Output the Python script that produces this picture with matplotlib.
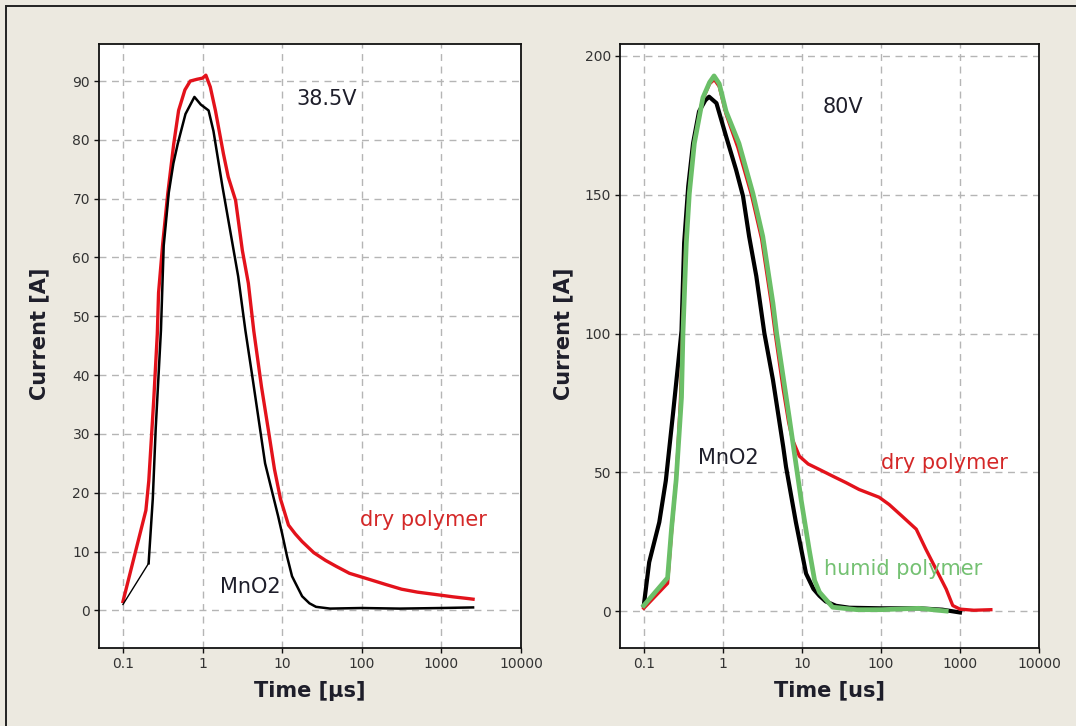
#!/usr/bin/env python3
"""Surge current of MnO2 vs polymer capacitors at 38.5 V and 80 V (log time axis)."""

import matplotlib
matplotlib.use("Agg")
import matplotlib.pyplot as plt
from matplotlib.patches import Rectangle

# ---------------------------------------------------------------------------
# Data
# ---------------------------------------------------------------------------

# 38.5 V panel
t_mno2_38 = [0.1, 0.21, 0.237, 0.258, 0.3, 0.325, 0.376, 0.43, 0.487, 0.61, 0.79, 0.95,
             1.19, 1.37, 1.78, 2.37, 2.8, 3.45, 4.3, 6.1, 8.9, 10, 11.5, 13.3, 14.6,
             17.8, 22, 26.6, 40, 100, 300, 1000, 2500]
i_mno2_38 = [1, 8, 19, 31, 47.6, 62, 71, 76, 79.3, 84.4, 87.3, 86,
             85, 81.5, 72, 62.4, 56.8, 47.6, 39, 25, 16, 13, 9.2, 5.8, 4.7,
             2.4, 1.2, 0.6, 0.3, 0.4, 0.3, 0.4, 0.5]

t_dry_38 = [0.1, 0.194, 0.211, 0.244, 0.27, 0.28, 0.316, 0.365, 0.434, 0.5, 0.6, 0.7,
            0.85, 1.0, 1.1, 1.25, 1.45, 1.83, 2.1, 2.6, 3.16, 3.76, 4.4, 5.5, 6.7, 8,
            9.5, 12, 14.6, 17.8, 25, 35, 47.5, 70, 122, 200, 316, 500, 841, 1400,
            2190, 2500]
i_dry_38 = [1.5, 17, 22, 36, 47, 54, 62.4, 70.8, 79.3, 85, 88.5, 90,
            90.3, 90.5, 91, 89, 85, 77.6, 73.7, 69.7, 61.2, 55.6, 47.5, 38, 30.7, 24,
            19, 14.5, 13, 11.7, 9.8, 8.5, 7.5, 6.3, 5.3, 4.4, 3.6, 3.1, 2.7, 2.3,
            2.0, 1.9]

# 80 V panel
t_mno2_80 = [0.1, 0.117, 0.157, 0.19, 0.235, 0.273, 0.3, 0.324, 0.365, 0.42, 0.5, 0.6,
             0.67, 0.83, 1.1, 1.47, 1.8, 2.15, 2.65, 3.35, 4.3, 5.8, 6.3, 8.4, 11.3,
             14, 16.7, 20, 27, 40, 100, 300, 600, 1000]
i_mno2_80 = [2, 17.6, 32, 47, 71.5, 89.5, 101, 132.6, 153, 168.5, 180, 184,
             185.3, 183, 171, 159, 149.5, 135, 120.7, 100.2, 83.4, 59.3, 52, 32, 13.5,
             8, 5.5, 3.5, 1.9, 1.2, 1, 1, 0.5, -0.5]

t_dry_80 = [0.1, 0.2, 0.224, 0.26, 0.29, 0.31, 0.34, 0.375, 0.43, 0.55, 0.68, 0.78,
            0.9, 1.1, 1.55, 2.3, 3.1, 4.1, 4.6, 5.8, 6.8, 7.6, 9.3, 12, 16.7, 25, 36,
            53, 95, 127, 185, 280, 370, 500, 670, 810, 1000, 1500, 2460]
i_dry_80 = [1, 10, 28, 50, 75, 100, 132, 150, 168, 184, 190, 191.5,
            189, 179, 167, 150, 134, 111, 100, 80, 68, 61.8, 55.8, 53, 51, 48.5, 46.3,
            43.8, 41, 38.4, 34.2, 29.5, 22.3, 15, 7.9, 2, 0.7, 0.3, 0.5]

t_humid_80 = [0.1, 0.2, 0.224, 0.257, 0.3, 0.313, 0.345, 0.377, 0.436, 0.56, 0.68,
              0.774, 0.9, 1.1, 1.6, 2.4, 3.2, 4.3, 4.8, 6.9, 9.8, 12.4, 14.5, 16.7,
              24.5, 50, 100, 300, 670]
i_humid_80 = [2, 12, 29.5, 47.4, 77, 100, 132.6, 150.5, 168.5, 185, 190.5,
              192.8, 190, 180, 168.5, 150.5, 135, 111, 100, 70, 40, 22, 11, 6.8,
              1.4, 0.5, 0.5, 1, 0]

x_ticks = [0.1, 1, 10, 100, 1000, 10000]
x_tick_labels = ["0.1", "1", "10", "100", "1000", "10000"]
y_ticks_38 = [0, 10, 20, 30, 40, 50, 60, 70, 80, 90]
y_ticks_80 = [0, 50, 100, 150, 200]

# ---------------------------------------------------------------------------
# Styling
# ---------------------------------------------------------------------------

BG = "#ECE9E0"
RED = "#E3121B"
GREEN = "#6BBF68"
TEXT = "#1E1E2A"
GRID = "#B5B5B5"


def style_axes(ax, yticks, ylim, xlabel):
    ax.set_xscale("log")
    ax.set_xlim(0.05, 10000)
    ax.set_ylim(*ylim)
    ax.set_xticks(x_ticks)
    ax.set_xticklabels(x_tick_labels)
    ax.minorticks_off()
    ax.set_yticks(yticks)
    ax.set_facecolor("white")
    ax.grid(True, color=GRID, linestyle=(0, (5, 4)), linewidth=1.0)
    ax.set_axisbelow(True)
    for sp in ax.spines.values():
        sp.set_linewidth(1.3)
        sp.set_color("#111111")
    ax.tick_params(direction="out", length=3.5, width=1, colors="#111111",
                   labelsize=10, labelcolor="#333333", pad=3)
    ax.set_xlabel(xlabel, fontsize=15, fontweight="bold", color=TEXT, labelpad=7)
    ax.set_ylabel("Current [A]", fontsize=15, fontweight="bold", color=TEXT)


def make_plot(out_path="out.png"):
    fig = plt.figure(figsize=(10.76, 7.26), dpi=100)
    fig.patch.set_facecolor(BG)

    # window frame
    fig.add_artist(Rectangle((6 / 1076, -0.1), 1.2, 1.1 - 6 / 726,
                             transform=fig.transFigure, fill=False,
                             edgecolor="#222222", linewidth=1.4))

    ax1 = fig.add_axes([99 / 1076, 78 / 726, 422 / 1076, 604 / 726])
    ax2 = fig.add_axes([620 / 1076, 78 / 726, 419 / 1076, 604 / 726])

    # left: 38.5 V  (first MnO2 segment is drawn thin, like the original trace)
    ax1.plot(t_mno2_38[:2], i_mno2_38[:2], color="black", lw=1.0, zorder=3)
    ax1.plot(t_mno2_38[1:], i_mno2_38[1:], color="black", lw=1.8, zorder=3)
    ax1.plot(t_dry_38, i_dry_38, color=RED, lw=2.4, zorder=2)
    style_axes(ax1, y_ticks_38, (-6.4, 96.3), "Time [µs]")
    ax1.yaxis.set_label_coords(-0.118, 0.52)

    ax1.text(36.5, 87, "38.5V", fontsize=15, color=TEXT, ha="center", va="center")
    ax1.text(590, 15.4, "dry polymer", fontsize=15, color="#D42828", ha="center", va="center")
    ax1.text(3.94, 3.9, "MnO2", fontsize=15, color=TEXT, ha="center", va="center")

    # right: 80 V
    ax2.plot(t_mno2_80, i_mno2_80, color="black", lw=3.0, zorder=2)
    ax2.plot(t_dry_80, i_dry_80, color=RED, lw=2.4, zorder=3)
    ax2.plot(t_humid_80, i_humid_80, color=GREEN, lw=3.4, zorder=4)
    style_axes(ax2, y_ticks_80, (-13.3, 204.3), "Time [us]")
    ax2.yaxis.set_label_coords(-0.112, 0.52)

    ax2.text(32.8, 181.5, "80V", fontsize=15, color=TEXT, ha="center", va="center")
    ax2.text(1.18, 55.3, "MnO2", fontsize=15, color=TEXT, ha="center", va="center")
    ax2.text(644, 53.5, "dry polymer", fontsize=15, color="#D42828", ha="center", va="center")
    ax2.text(189, 15.1, "humid polymer", fontsize=15, color="#74C172", ha="center",
             va="center", zorder=5)

    fig.savefig(out_path, dpi=100, facecolor=BG)


if __name__ == "__main__":
    make_plot()
